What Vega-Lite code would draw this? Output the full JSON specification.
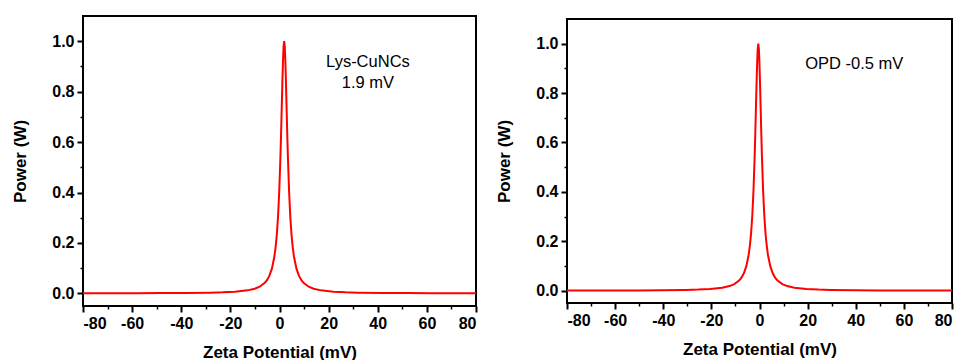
{
  "$schema": "https://vega.github.io/schema/vega-lite/v6.json",
  "background": "white",
  "padding": {"left": 10, "top": 15, "right": 0, "bottom": 0},
  "spacing": 16,
  "center": true,
  "config": {
    "font": "Liberation Sans",
    "view": {"stroke": "black", "strokeWidth": 2},
    "axis": {
      "grid": false,
      "domain": false,
      "tickColor": "black",
      "labelColor": "black",
      "titleColor": "black",
      "labelFont": "Liberation Sans",
      "titleFont": "Liberation Sans",
      "labelFontSize": 16,
      "labelFontWeight": "bold",
      "titleFontSize": 17,
      "titleFontWeight": "bold"
    }
  },
  "hconcat": [
    {
      "width": 393,
      "height": 290,
      "resolve": {"axis": {"x": "independent", "y": "independent"}},
      "layer": [
        {
          "data": {"values": [
            {"x": -80, "p": 0.0004}, {"x": -68.1, "p": 0.00056}, {"x": -58.1, "p": 0.00076}, {"x": -48.1, "p": 0.00109},
            {"x": -38.1, "p": 0.0017}, {"x": -28.1, "p": 0.00302}, {"x": -23.1, "p": 0.00434}, {"x": -18.1, "p": 0.00676},
            {"x": -13.1, "p": 0.012}, {"x": -10.1, "p": 0.0186}, {"x": -8.1, "p": 0.0265}, {"x": -6.1, "p": 0.0408},
            {"x": -5.1, "p": 0.0526}, {"x": -4.1, "p": 0.0703}, {"x": -3.1, "p": 0.0982}, {"x": -2.1, "p": 0.1454},
            {"x": -1.6, "p": 0.1818}, {"x": -1.1, "p": 0.2322}, {"x": -0.6, "p": 0.3034}, {"x": -0.1, "p": 0.405},
            {"x": 0.4, "p": 0.5475}, {"x": 0.65, "p": 0.6353}, {"x": 0.9, "p": 0.7314}, {"x": 1.15, "p": 0.8288},
            {"x": 1.4, "p": 0.9159}, {"x": 1.65, "p": 0.9776}, {"x": 1.9, "p": 1.0}, {"x": 2.15, "p": 0.9776},
            {"x": 2.4, "p": 0.9159}, {"x": 2.65, "p": 0.8288}, {"x": 2.9, "p": 0.7314}, {"x": 3.15, "p": 0.6353},
            {"x": 3.4, "p": 0.5475}, {"x": 3.9, "p": 0.405}, {"x": 4.4, "p": 0.3034}, {"x": 4.9, "p": 0.2322},
            {"x": 5.4, "p": 0.1818}, {"x": 5.9, "p": 0.1454}, {"x": 6.9, "p": 0.0982}, {"x": 7.9, "p": 0.0703},
            {"x": 8.9, "p": 0.0526}, {"x": 9.9, "p": 0.0408}, {"x": 11.9, "p": 0.0265}, {"x": 13.9, "p": 0.0186},
            {"x": 16.9, "p": 0.012}, {"x": 21.9, "p": 0.00676}, {"x": 26.9, "p": 0.00434}, {"x": 31.9, "p": 0.00302},
            {"x": 41.9, "p": 0.0017}, {"x": 51.9, "p": 0.00109}, {"x": 61.9, "p": 0.00076}, {"x": 71.9, "p": 0.00056},
            {"x": 80, "p": 0.00045}
          ]},
          "mark": {"type": "line", "color": "#ff0000", "strokeWidth": 2, "clip": true},
          "encoding": {
            "x": {"field": "x", "type": "quantitative", "scale": {"domain": [-80, 80], "nice": false, "zero": false},
                  "axis": {"orient": "bottom", "values": [-80, -60, -40, -20, 0, 20, 40, 60, 80], "labelExpr": "'' + datum.value", "tickSize": 6, "tickWidth": 2, "labelPadding": 3, "title": "Zeta Potential (mV)", "titlePadding": 13}},
            "y": {"field": "p", "type": "quantitative", "scale": {"domain": [-0.05, 1.1], "nice": false, "zero": false},
                  "axis": {"orient": "left", "values": [0, 0.2, 0.4, 0.6, 0.8, 1.0], "format": ".1f", "tickSize": 6, "tickWidth": 2, "labelPadding": 3, "title": "Power (W)", "titlePadding": 22}}
          }
        },
        {
          "data": {"values": [
            {"label": "Lys-CuNCs", "x": 36.0, "y": 0.897},
            {"label": "1.9 mV", "x": 36.0, "y": 0.815}
          ]},
          "mark": {"type": "text", "fontSize": 16.5, "align": "center", "baseline": "alphabetic", "color": "black", "font": "Liberation Sans"},
          "encoding": {
            "x": {"field": "x", "type": "quantitative", "scale": {"domain": [-80, 80], "nice": false, "zero": false},
                  "axis": {"orient": "bottom", "values": [-70, -50, -30, -10, 10, 30, 50, 70], "labels": false, "tickSize": 3, "tickWidth": 1.5, "title": null}},
            "y": {"field": "y", "type": "quantitative", "scale": {"domain": [-0.05, 1.1], "nice": false, "zero": false},
                  "axis": {"orient": "left", "values": [0.1, 0.3, 0.5, 0.7, 0.9], "labels": false, "tickSize": 3, "tickWidth": 1.5, "title": null}},
            "text": {"field": "label"}
          }
        }
      ]
    },
    {
      "width": 385,
      "height": 284,
      "resolve": {"axis": {"x": "independent", "y": "independent"}},
      "layer": [
        {
          "data": {"values": [
            {"x": -80, "p": 0.00045}, {"x": -70.5, "p": 0.00056}, {"x": -60.5, "p": 0.00076}, {"x": -50.5, "p": 0.00109},
            {"x": -40.5, "p": 0.0017}, {"x": -30.5, "p": 0.00302}, {"x": -25.5, "p": 0.00434}, {"x": -20.5, "p": 0.00676},
            {"x": -15.5, "p": 0.012}, {"x": -12.5, "p": 0.0186}, {"x": -10.5, "p": 0.0265}, {"x": -8.5, "p": 0.0408},
            {"x": -7.5, "p": 0.0526}, {"x": -6.5, "p": 0.0703}, {"x": -5.5, "p": 0.0982}, {"x": -4.5, "p": 0.1454},
            {"x": -4.0, "p": 0.1818}, {"x": -3.5, "p": 0.2322}, {"x": -3.0, "p": 0.3034}, {"x": -2.5, "p": 0.405},
            {"x": -2.0, "p": 0.5475}, {"x": -1.75, "p": 0.6353}, {"x": -1.5, "p": 0.7314}, {"x": -1.25, "p": 0.8288},
            {"x": -1.0, "p": 0.9159}, {"x": -0.75, "p": 0.9776}, {"x": -0.5, "p": 1.0}, {"x": -0.25, "p": 0.9776},
            {"x": 0.0, "p": 0.9159}, {"x": 0.25, "p": 0.8288}, {"x": 0.5, "p": 0.7314}, {"x": 0.75, "p": 0.6353},
            {"x": 1.0, "p": 0.5475}, {"x": 1.5, "p": 0.405}, {"x": 2.0, "p": 0.3034}, {"x": 2.5, "p": 0.2322},
            {"x": 3.0, "p": 0.1818}, {"x": 3.5, "p": 0.1454}, {"x": 4.5, "p": 0.0982}, {"x": 5.5, "p": 0.0703},
            {"x": 6.5, "p": 0.0526}, {"x": 7.5, "p": 0.0408}, {"x": 9.5, "p": 0.0265}, {"x": 11.5, "p": 0.0186},
            {"x": 14.5, "p": 0.012}, {"x": 19.5, "p": 0.00676}, {"x": 24.5, "p": 0.00434}, {"x": 29.5, "p": 0.00302},
            {"x": 39.5, "p": 0.0017}, {"x": 49.5, "p": 0.00109}, {"x": 59.5, "p": 0.00076}, {"x": 69.5, "p": 0.00056},
            {"x": 80, "p": 0.00043}
          ]},
          "mark": {"type": "line", "color": "#ff0000", "strokeWidth": 2, "clip": true},
          "encoding": {
            "x": {"field": "x", "type": "quantitative", "scale": {"domain": [-80, 80], "nice": false, "zero": false},
                  "axis": {"orient": "bottom", "values": [-80, -60, -40, -20, 0, 20, 40, 60, 80], "labelExpr": "'' + datum.value", "tickSize": 6, "tickWidth": 2, "labelPadding": 3, "title": "Zeta Potential (mV)", "titlePadding": 13}},
            "y": {"field": "p", "type": "quantitative", "scale": {"domain": [-0.05, 1.1], "nice": false, "zero": false},
                  "axis": {"orient": "left", "values": [0, 0.2, 0.4, 0.6, 0.8, 1.0], "format": ".1f", "tickSize": 6, "tickWidth": 2, "labelPadding": 3, "title": "Power (W)", "titlePadding": 22}}
          }
        },
        {
          "data": {"values": [
            {"label": "OPD -0.5 mV", "x": 39.4, "y": 0.898}
          ]},
          "mark": {"type": "text", "fontSize": 16.5, "align": "center", "baseline": "alphabetic", "color": "black", "font": "Liberation Sans"},
          "encoding": {
            "x": {"field": "x", "type": "quantitative", "scale": {"domain": [-80, 80], "nice": false, "zero": false},
                  "axis": {"orient": "bottom", "values": [-70, -50, -30, -10, 10, 30, 50, 70], "labels": false, "tickSize": 3, "tickWidth": 1.5, "title": null}},
            "y": {"field": "y", "type": "quantitative", "scale": {"domain": [-0.05, 1.1], "nice": false, "zero": false},
                  "axis": {"orient": "left", "values": [0.1, 0.3, 0.5, 0.7, 0.9], "labels": false, "tickSize": 3, "tickWidth": 1.5, "title": null}},
            "text": {"field": "label"}
          }
        }
      ]
    }
  ]
}
